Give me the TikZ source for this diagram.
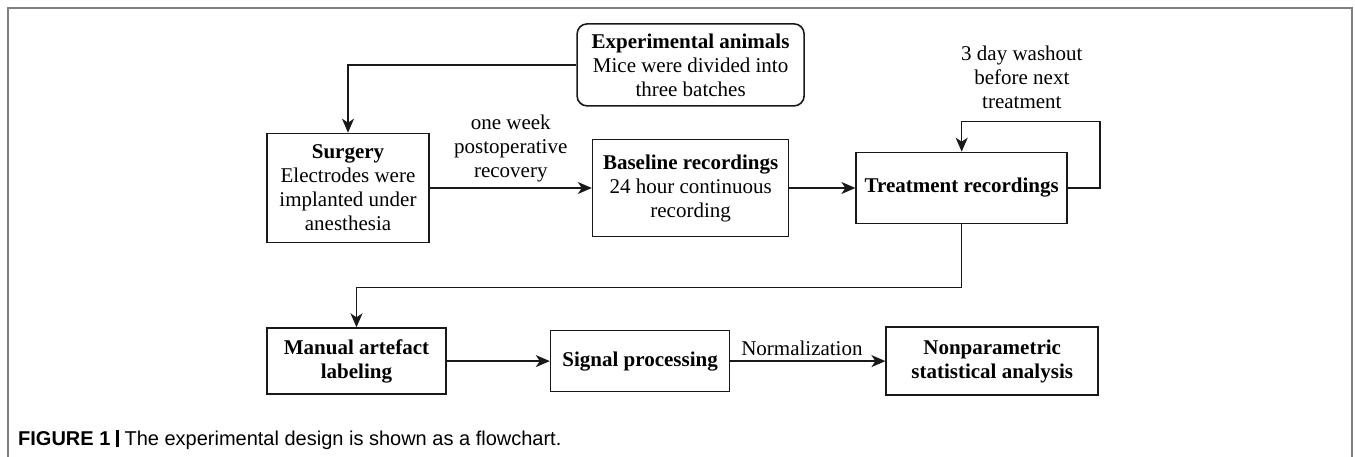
\documentclass[tikz,border=0pt]{standalone}
\usepackage{fontspec}
\setmainfont{Liberation Serif}
\newfontfamily\capfont{Liberation Sans}
\usepackage{tikz}
\usetikzlibrary{positioning,arrows.meta}

\begin{document}
\begin{tikzpicture}[
x=1pt, y=-1pt,
every node/.style={font=\fontsize{21}{24}\selectfont},
box/.style={draw=black!90, line width=1.6pt, align=center, inner sep=4pt},
rbox/.style={box, rounded corners=10pt},
arr/.style={draw=black!90, line width=1.5pt, -{Stealth[length=14pt,width=12pt,inset=4pt]}},
lbl/.style={align=center, inner sep=2pt}
]
\useasboundingbox (0,0) rectangle (1355,457);
\draw[black!50, line width=1.2pt] (8,457) -- (8,8) -- (1352,8) -- (1352,457);

% top row
\node[box, minimum width=162pt, minimum height=109pt] (surg) at (348,188)
  {\textbf{Surgery}\\Electrodes were\\implanted under\\anesthesia};
\node[box, right=162pt of surg, minimum width=196pt, minimum height=97pt] (base)
  {\textbf{Baseline recordings}\\24 hour continuous\\recording};
\node[box, right=66pt of base, minimum width=211pt, minimum height=71pt] (treat)
  {\textbf{Treatment recordings}};
\node[rbox, above=32pt of base, minimum width=227pt, minimum height=82pt] (anim)
  {\textbf{Experimental animals}\\Mice were divided into\\three batches};

% bottom row
\node[box, below=84pt of surg.south west, anchor=north west, minimum width=179pt, minimum height=66pt] (manual)
  {\textbf{Manual artefact}\\\textbf{labeling}};
\node[box, right=103pt of manual, minimum width=179pt, minimum height=61pt] (signal)
  {\textbf{Signal processing}};
\node[box, right=155pt of signal, minimum width=212pt, minimum height=68pt] (stats)
  {\textbf{Nonparametric}\\\textbf{statistical analysis}};

\draw[arr] (anim.west) -| (surg.north);
\draw[arr] (surg) -- node[lbl, above=3pt] {one week\\postoperative\\recovery} (base);
\draw[arr] (base) -- (treat);
\draw[arr] (treat.east) -- ++(32pt,0) |- ([yshift=30pt]treat.north)
  node[lbl, pos=0.75, above=10pt, xshift=-9pt] {3 day washout\\before next\\treatment} -- (treat.north);
\draw[arr] (treat.south) -- ++(0,-63pt) -| (manual.north);
\draw[arr] (manual) -- (signal);
\draw[arr] (signal) -- node[lbl, above=3pt, xshift=-6pt] {Normalization} (stats);

% caption
\node[anchor=west, inner sep=0pt, font=\capfont\fontsize{20}{22}\selectfont] (cap) at (18,440)
  {\textbf{FIGURE 1} \rule[-2pt]{3pt}{17pt} The experimental design is shown as a flowchart.};
\end{tikzpicture}
\end{document}
